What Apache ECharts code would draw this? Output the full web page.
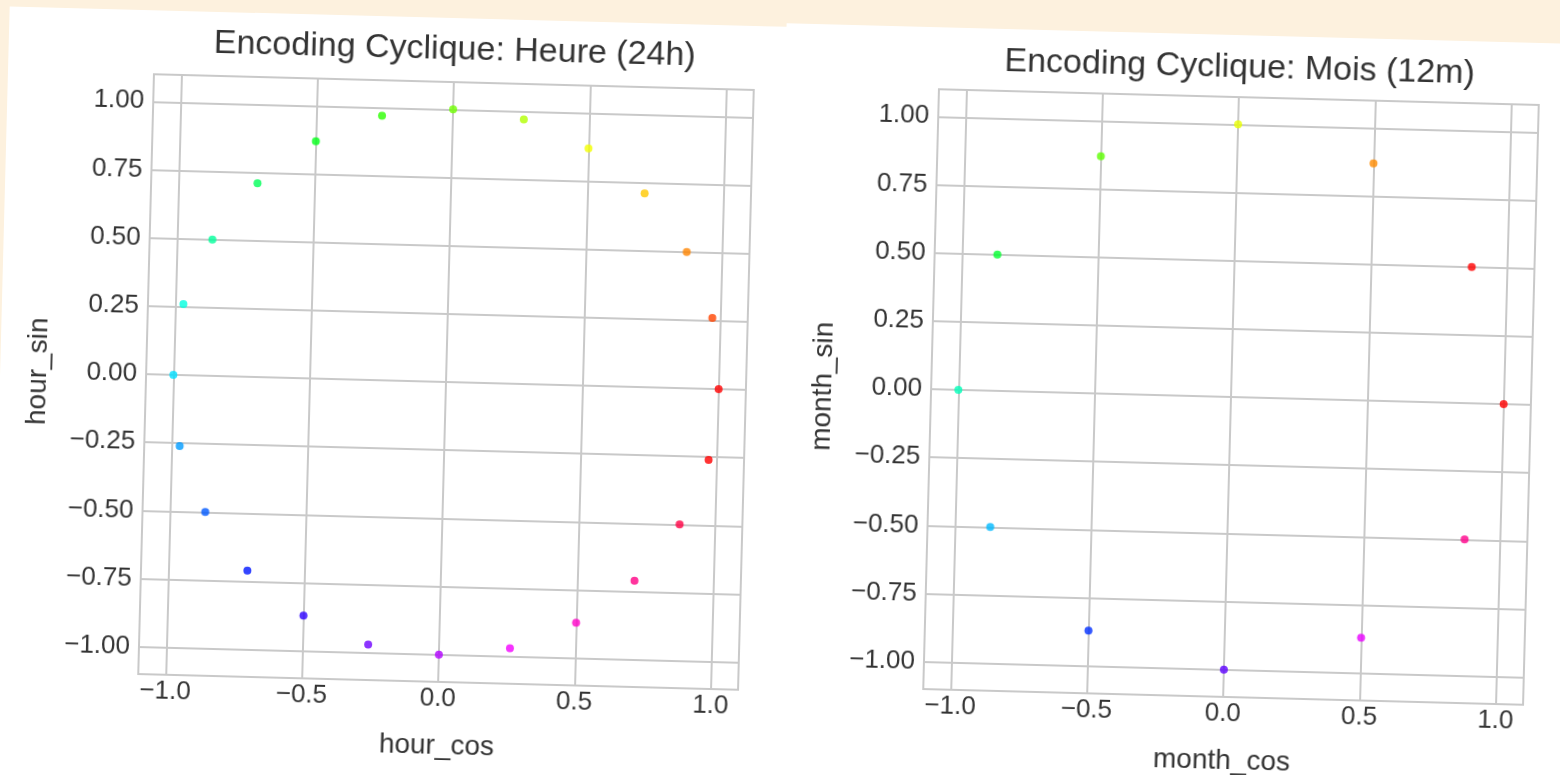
<!DOCTYPE html>
<html>
<head>
<meta charset="utf-8">
<script src="https://cdn.jsdelivr.net/npm/echarts@6/dist/echarts.min.js"></script>
<style>
  html, body { margin: 0; padding: 0; width: 1560px; height: 775px; overflow: hidden; background: #fdf1de; }
  .panel { position: absolute; background: #fff; transform: rotate(1.5deg); }
  #hourPanel { left: 0; top: 18px; width: 778px; height: 820px; transform-origin: 446px 364px; }
  #monthPanel { left: 777px; top: 35px; width: 830px; height: 820px; transform-origin: 454px 362px; z-index: 2; }
  .chart { position: absolute; left: 0; top: 0; width: 100%; height: 100%; }
</style>
</head>
<body>
<div class="panel" id="hourPanel"><div class="chart" id="hourChart"></div></div>
<div class="panel" id="monthPanel"><div class="chart" id="monthChart"></div></div>
<script>
// hour encoding (24 points), hour value drives the colour
const hours = [0, 1, 2, 3, 4, 5, 6, 7, 8, 9, 10, 11, 12, 13, 14, 15, 16, 17, 18, 19, 20, 21, 22, 23];
const hourCos = [1.00, 0.97, 0.87, 0.71, 0.50, 0.26, 0.00, -0.26, -0.50, -0.71, -0.87, -0.97,
                 -1.00, -0.97, -0.87, -0.71, -0.50, -0.26, 0.00, 0.26, 0.50, 0.71, 0.87, 0.97];
const hourSin = [0.00, 0.26, 0.50, 0.71, 0.87, 0.97, 1.00, 0.97, 0.87, 0.71, 0.50, 0.26,
                 0.00, -0.26, -0.50, -0.71, -0.87, -0.97, -1.00, -0.97, -0.87, -0.71, -0.50, -0.26];

// month encoding (12 points)
const months = [1, 2, 3, 4, 5, 6, 7, 8, 9, 10, 11, 12];
const monthCos = [0.87, 0.50, 0.00, -0.50, -0.87, -1.00, -0.87, -0.50, 0.00, 0.50, 0.87, 1.00];
const monthSin = [0.50, 0.87, 1.00, 0.87, 0.50, 0.00, -0.50, -0.87, -1.00, -0.87, -0.50, 0.00];

// tick labels
const xTicks = [-1.0, -0.5, 0.0, 0.5, 1.0];
const yTicks = [-1.00, -0.75, -0.50, -0.25, 0.00, 0.25, 0.50, 0.75, 1.00];

// hsv colormap stops
const hsvColors = ['#ff0000', '#ffff00', '#00ff00', '#00ffff', '#0000ff', '#ff00ff', '#ff0000'];

const FONT = '"Liberation Sans", Arial, sans-serif';
const TEXT = '#333333';
const GRID = '#c9c9c9';

const fmt = (digits) => (v) => Number(v).toFixed(digits).replace('-', '\u2212');

function buildOption(cfg) {
  const axisCommon = {
    type: 'value',
    min: -1.1,
    max: 1.1,
    axisLine: { show: false },
    axisTick: { show: false },
    splitLine: { show: false },
    nameLocation: 'middle',
    nameTextStyle: { color: TEXT, fontFamily: FONT, fontSize: 28 },
  };
  return {
    animation: false,
    title: {
      text: cfg.title,
      left: cfg.cx,
      textAlign: 'center',
      top: cfg.titleTop,
      padding: 0,
      textStyle: { color: TEXT, fontFamily: FONT, fontSize: 34, fontWeight: 'normal' },
    },
    grid: {
      left: cfg.cx - 300,
      top: cfg.cy - 300,
      width: 600,
      height: 600,
      show: true,
      backgroundColor: '#fff',
      borderColor: GRID,
      borderWidth: 2,
    },
    xAxis: {
      ...axisCommon,
      name: cfg.xName,
      nameGap: 50,
      axisLabel: {
        customValues: xTicks,
        formatter: fmt(1),
        color: TEXT, fontFamily: FONT, fontSize: 26, margin: 4,
      },
    },
    yAxis: {
      ...axisCommon,
      name: cfg.yName,
      nameGap: 94,
      axisLabel: {
        customValues: yTicks,
        formatter: fmt(2),
        color: TEXT, fontFamily: FONT, fontSize: 26, margin: 9,
      },
    },
    visualMap: {
      show: false,
      type: 'continuous',
      min: cfg.cMin,
      max: cfg.cMax,
      dimension: 2,
      seriesIndex: 1,
      inRange: { color: hsvColors },
    },
    series: [
      {
        type: 'line',
        data: [],
        silent: true,
        z: 1,
        markLine: {
          silent: true,
          symbol: 'none',
          animation: false,
          label: { show: false },
          lineStyle: { color: GRID, width: 2, type: 'solid' },
          data: [
            ...xTicks.map((v) => ({ xAxis: v })),
            ...yTicks.map((v) => ({ yAxis: v })),
          ],
        },
      },
      {
        type: 'scatter',
        z: 5,
        symbolSize: 8,
        data: cfg.cos.map((c, i) => [c, cfg.sin[i], cfg.c[i]]),
      },
    ],
  };
}

const hourChart = echarts.init(document.getElementById('hourChart'));
hourChart.setOption(buildOption({
  title: 'Encoding Cyclique: Heure (24h)',
  xName: 'hour_cos', yName: 'hour_sin',
  cos: hourCos, sin: hourSin, c: hours, cMin: 0, cMax: 23,
  cx: 446, cy: 364, titleTop: 15,
}));

const monthChart = echarts.init(document.getElementById('monthChart'));
monthChart.setOption(buildOption({
  title: 'Encoding Cyclique: Mois (12m)',
  xName: 'month_cos', yName: 'month_sin',
  cos: monthCos, sin: monthSin, c: months, cMin: 1, cMax: 12,
  cx: 454, cy: 362, titleTop: 16,
}));
</script>
</body>
</html>
